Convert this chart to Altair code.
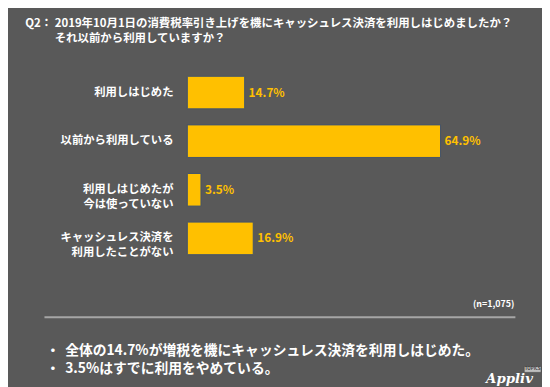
import altair as alt
import pandas as pd

categories = ["利用しはじめた", "以前から利用している", "利用しはじめたが\n今は使っていない", "キャッシュレス決済を\n利用したことがない"]
values = [14.7, 64.9, 3.5, 16.9]
title_lines = ["2019年10月1日の消費税率引き上げを機にキャッシュレス決済を利用しはじめましたか？", "それ以前から利用していますか？"]
bullets = ["全体の14.7%が増税を機にキャッシュレス決済を利用しはじめた。", "3.5%はすでに利用をやめている。"]
note = "(n=1,075)"

FONT = "Noto Sans CJK JP"
BG = "#595959"
BAR = "#FFC000"

df = pd.DataFrame({"cat": categories, "val": values})
df["lab"] = df["val"].map(lambda v: f"{v:.1f}%")

xs = alt.Scale(domain=[0, 100], range=[182, 578], nice=False)
ys = alt.Scale(domain=categories, range=[58.33, 255.67], paddingInner=0.33, paddingOuter=0.165)

base = alt.Chart(df)
bars = base.mark_bar(color=BAR, stroke="#44546A", strokeWidth=1).encode(
    x=alt.X("val:Q", scale=xs, axis=None),
    y=alt.Y("cat:N", scale=ys, axis=None, sort=categories),
)
vals = base.mark_text(align="left", baseline="middle", dx=4, font=FONT, fontWeight="bold",
                      fontSize=12, color=BAR).encode(
    x=alt.X("val:Q", scale=xs, axis=None),
    y=alt.Y("cat:N", scale=ys, axis=None, sort=categories),
    text="lab:N",
)
cats = base.mark_text(align="right", baseline="middle", font=FONT, fontWeight="bold",
                      fontSize=11.5, color="white", lineBreak="\n", lineHeight=15).encode(
    x=alt.value(168),
    y=alt.Y("cat:N", scale=ys, axis=None, sort=categories),
    text="cat:N",
)

def txt(s, x, y, size, align="left", weight="bold", color="white", font=FONT, style="normal"):
    return alt.Chart(pd.DataFrame({"t": [s]})).mark_text(
        align=align, baseline="middle", font=font, fontWeight=weight, fontSize=size,
        color=color, fontStyle=style
    ).encode(x=alt.value(x), y=alt.value(y), text="t:N")

q = txt("Q2：", 17.5, 13.5, 11.6)
t1 = txt(title_lines[0], 47.4, 13.5, 11.6)
t2 = txt(title_lines[1], 47.4, 28.3, 11.6)
n = txt(note, 514, 298, 9, align="right")
b1d = txt("・", 45.6, 345, 14, align="center")
b1 = txt(bullets[0], 58, 345, 14)
b2d = txt("・", 45.6, 364, 14, align="center")
b2 = txt(bullets[1], 58, 364, 14)
logo = txt("Appliv", 509, 374, 13.5, align="center", font="DejaVu Serif", style="italic")
topics_box = alt.Chart(pd.DataFrame({"a": [0]})).mark_rect(color="#BFBFBF", stroke="#404040", strokeWidth=0.5).encode(
    x=alt.value(524), x2=alt.value(541), y=alt.value(361), y2=alt.value(367)
)
topics = txt("TOPICS", 532.5, 364, 4.5, align="center", color="#404040")

rule = alt.Chart(pd.DataFrame({"a": [0]})).mark_rule(color="#A6A6A6", strokeWidth=2).encode(
    x=alt.value(37), x2=alt.value(515), y=alt.value(311)
)

chart = alt.layer(bars, vals, cats, q, t1, t2, n, rule, b1d, b1, b2d, b2, logo, topics_box, topics).properties(
    width=542, height=379, padding=0, autosize=alt.AutoSizeParams(type="none"),
    background=BG,
).configure_view(stroke=None)

chart.save("out.html", embed_options={"renderer": "svg", "actions": False})
